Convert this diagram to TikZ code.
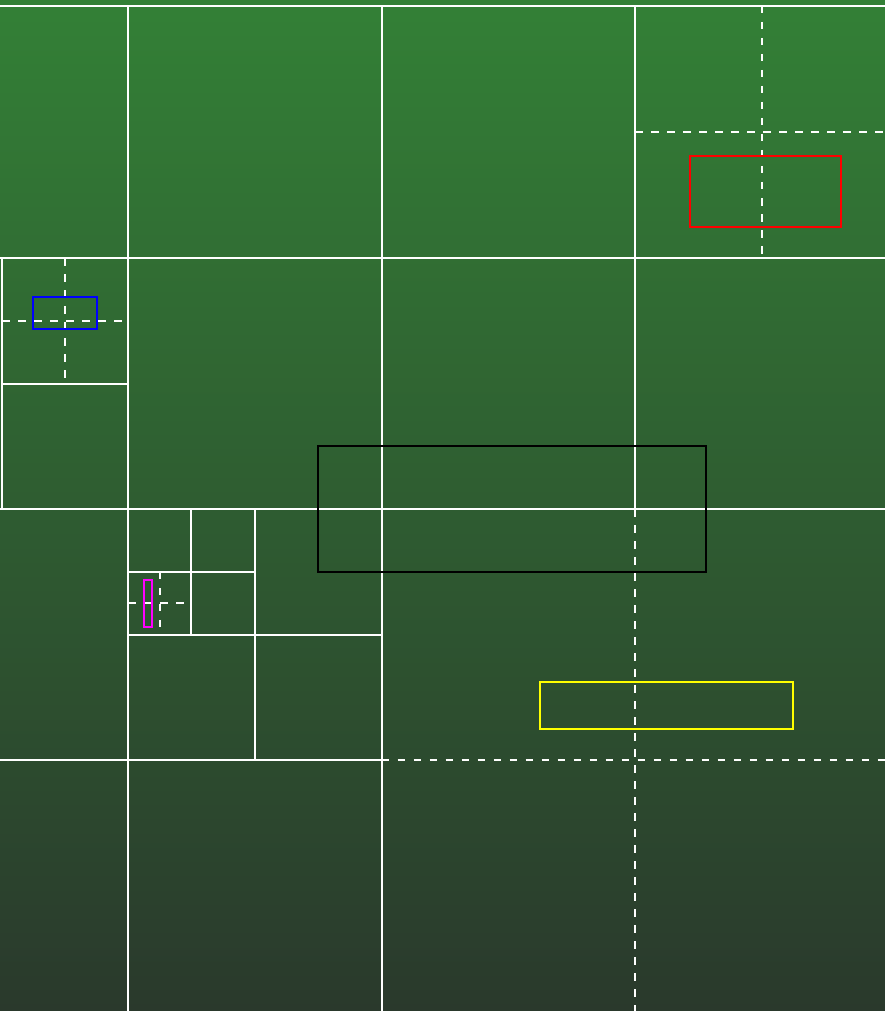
\documentclass[tikz,border=0pt]{standalone}
\usetikzlibrary{positioning}
\definecolor{bgtop}{RGB}{51,128,54}
\definecolor{bgbot}{RGB}{42,57,44}
\definecolor{objred}{RGB}{255,0,0}
\definecolor{objblue}{RGB}{0,0,255}
\definecolor{objpink}{RGB}{255,0,255}
\definecolor{objyellow}{RGB}{255,255,0}

\begin{document}
\begin{tikzpicture}[
  x=1pt, y=-1pt,
  cell/.style={draw=white, line width=2pt},
  centre/.style={draw=white, line width=2pt, dash pattern=on 7.5pt off 8.5pt},
  item/.style={line width=2pt}
]
\shade[top color=bgtop, bottom color=bgbot] (0,0) rectangle (885,1011);
\useasboundingbox (0,0) rectangle (885,1011);
% quadtree cells
\draw[cell] (0,6) -- (885,6);
\draw[cell] (0,258) -- (885,258);
\draw[cell] (0,509) -- (885,509);
\draw[cell] (0,760) -- (381.5,760);
\draw[cell] (128,6) -- (128,1011);
\draw[cell] (381.5,6) -- (381.5,1011);
\draw[cell] (635,6) -- (635,509);
\draw[cell] (2,258) -- (2,509);
\draw[cell] (2,383.5) -- (128,383.5);
\draw[cell] (254.75,509) -- (254.75,760);
\draw[cell] (128,634.5) -- (381.5,634.5);
\draw[cell] (191.4,509) -- (191.4,634.5);
\draw[cell] (128,571.75) -- (254.75,571.75);
% leaf centres
\draw[centre] (635,509) -- (635,1011);
\draw[centre] (381.5,760) -- (885,760);
\draw[centre] (761.5,6) -- (761.5,258);
\draw[centre] (635,132) -- (885,132);
\draw[centre] (65,258) -- (65,383.5);
\draw[centre] (2,320.75) -- (128,320.75);
\draw[centre] (159.7,571.75) -- (159.7,634.5);
\draw[centre] (128,603.1) -- (191.4,603.1);
% objects
\draw[item, objred] (690.3,155.7) rectangle (841,226.7);
\draw[item, objblue] (33,297) rectangle (97,328.7);
\draw[item, objpink] (144,580) rectangle (152.3,627);
\draw[item, black] (318.3,446) rectangle (706.3,572);
\draw[item, objyellow] (540,682.3) rectangle (793.3,729);
\end{tikzpicture}
\end{document}
